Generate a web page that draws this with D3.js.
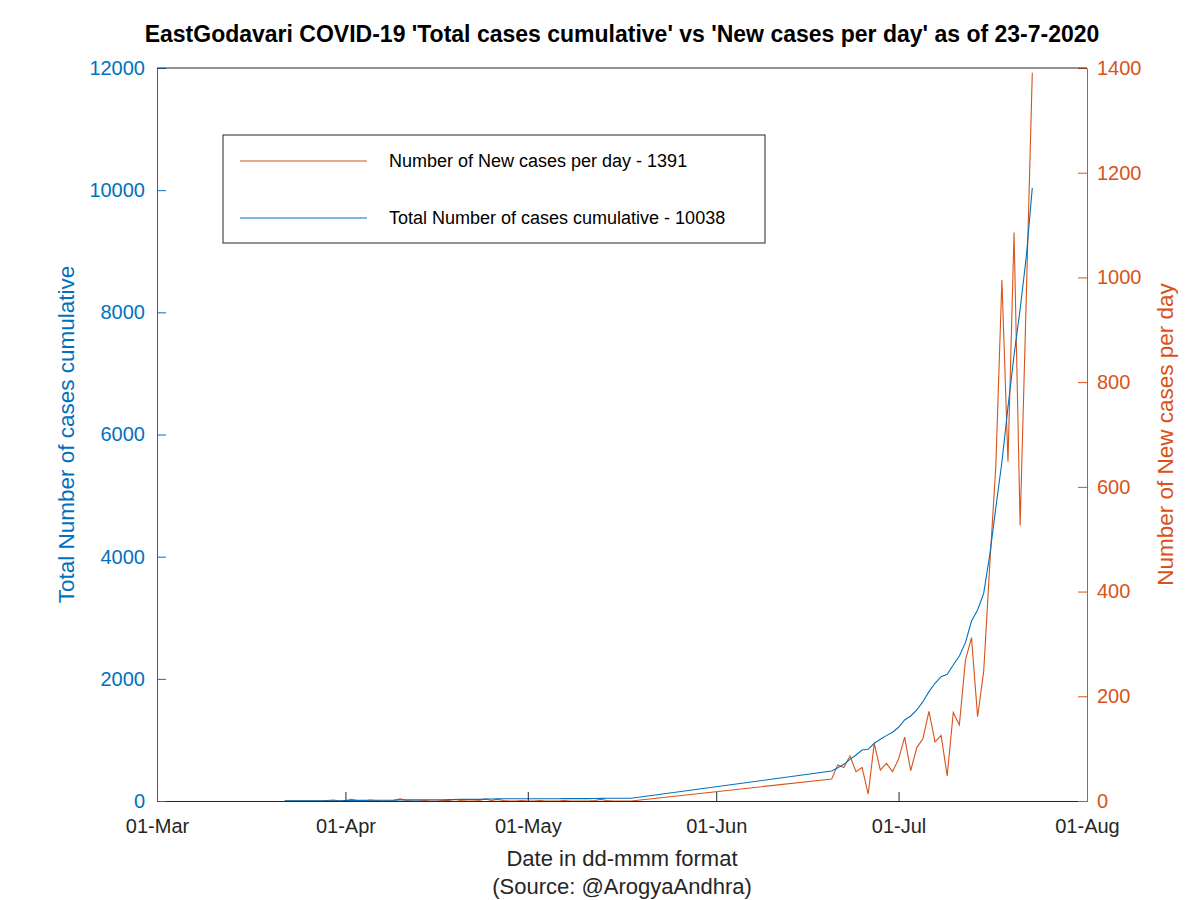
<!DOCTYPE html>
<html>
<head>
<meta charset="utf-8">
<script src="https://cdn.jsdelivr.net/npm/d3@7"></script>
<style>
  body { margin: 0; background: #fff; }
  svg { display: block; font-family: "Liberation Sans", Arial, sans-serif; }
</style>
</head>
<body>
<svg id="chart" width="1200" height="900"></svg>
<script>
// ---- Data ----
const dates = [
  "2020-03-22","2020-03-23","2020-03-24","2020-03-25","2020-03-26","2020-03-27","2020-03-28","2020-03-29","2020-03-30","2020-03-31",
  "2020-04-01","2020-04-02","2020-04-03","2020-04-04","2020-04-05","2020-04-06","2020-04-07","2020-04-08","2020-04-09","2020-04-10",
  "2020-04-11","2020-04-12","2020-04-13","2020-04-14","2020-04-15","2020-04-16","2020-04-17","2020-04-18","2020-04-19","2020-04-20",
  "2020-04-21","2020-04-22","2020-04-23","2020-04-24","2020-04-25","2020-04-26","2020-04-27","2020-04-28","2020-04-29","2020-04-30",
  "2020-05-01","2020-05-02","2020-05-03","2020-05-04","2020-05-05","2020-05-06","2020-05-07","2020-05-08","2020-05-09","2020-05-10",
  "2020-05-11","2020-05-12","2020-05-13","2020-05-14","2020-05-15","2020-05-16","2020-05-17","2020-05-18",
  "2020-06-20","2020-06-21","2020-06-22","2020-06-23","2020-06-24","2020-06-25","2020-06-26","2020-06-27","2020-06-28","2020-06-29","2020-06-30",
  "2020-07-01","2020-07-02","2020-07-03","2020-07-04","2020-07-05","2020-07-06","2020-07-07","2020-07-08","2020-07-09","2020-07-10",
  "2020-07-11","2020-07-12","2020-07-13","2020-07-14","2020-07-15","2020-07-16","2020-07-17","2020-07-18","2020-07-19","2020-07-20",
  "2020-07-21","2020-07-22","2020-07-23"
];
const newCases = [
  0,0,0,0,0,0,0,1,2,0,
  1,3,1,0,2,1,0,0,1,4,
  1,0,0,1,0,0,1,1,3,1,
  0,0,1,4,1,3,1,0,0,1,
  0,0,1,0,0,0,1,0,0,0,
  0,1,3,1,0,0,0,0,
  42,69,64,86,56,64,13,110,59,72,56,
  80,122,58,102,119,171,113,125,48,169,
  145,269,312,161,247,450,640,995,648,1086,
  526,958,1391
];
const cumulative = [
  2,2,2,2,2,2,2,3,5,5,
  6,9,10,10,12,13,13,13,14,18,
  19,19,19,20,20,20,21,22,25,26,
  26,26,27,31,32,35,36,36,36,37,
  37,37,38,38,38,38,39,39,39,39,
  39,40,43,44,44,44,44,44,
  491,545,600,682,753,835,846,945,1010,1070,1125,
  1207,1326,1392,1490,1626,1790,1927,2035,2074,2227,
  2374,2592,2947,3127,3400,4030,4800,5550,6450,7300,
  8050,8900,10038
];
const xTickDates = ["2020-03-01","2020-04-01","2020-05-01","2020-06-01","2020-07-01","2020-08-01"];
const xTickLabels = ["01-Mar","01-Apr","01-May","01-Jun","01-Jul","01-Aug"];
const leftTicks = [0,2000,4000,6000,8000,10000,12000];
const rightTicks = [0,200,400,600,800,1000,1200,1400];

const titleText = "EastGodavari COVID-19 'Total cases cumulative' vs 'New cases per day' as of 23-7-2020";
const legendNew = "Number of New cases per day - 1391";
const legendCum = "Total Number of cases cumulative - 10038";

// ---- Drawing ----
const BLUE = "#0072BD", ORANGE = "#D95319", DARK = "#262626";
const FONT = "Liberation Sans, Arial, sans-serif";
const svg = d3.select("#chart");
const parse = d3.utcParse("%Y-%m-%d");
const L = 157, R = 1087, T = 68, B = 801;

const x = d3.scaleUtc().domain([parse("2020-03-01"), parse("2020-08-01")]).range([L, R]);
const yL = d3.scaleLinear().domain([0, 12000]).range([B, T]);
const yR = d3.scaleLinear().domain([0, 1400]).range([B, T]);

const data = dates.map((d, i) => ({ date: parse(d), n: newCases[i], c: cumulative[i] }));

svg.append("rect").attr("x", 0).attr("y", 0).attr("width", 1200).attr("height", 900).attr("fill", "#fff");

// lines
svg.append("path").datum(data)
  .attr("fill", "none").attr("stroke", ORANGE).attr("stroke-width", 1.1)
  .attr("d", d3.line().x(d => x(d.date)).y(d => yR(d.n)));
svg.append("path").datum(data)
  .attr("fill", "none").attr("stroke", BLUE).attr("stroke-width", 1.1)
  .attr("d", d3.line().x(d => x(d.date)).y(d => yL(d.c)));

// axes
const xAxis = d3.axisBottom(x)
  .tickValues(xTickDates.map(parse))
  .tickFormat((d, i) => xTickLabels[i])
  .tickSizeInner(-9).tickSizeOuter(0).tickPadding(18);
const gx = svg.append("g").attr("transform", `translate(0,${B})`).call(xAxis);
gx.select(".domain").attr("stroke", DARK).attr("stroke-width", 1);
gx.selectAll(".tick line").attr("stroke", DARK);
gx.selectAll(".tick text").attr("fill", DARK).attr("font-size", 20).attr("font-family", FONT);

const gl = svg.append("g").attr("transform", `translate(${L},0)`)
  .call(d3.axisLeft(yL).tickValues(leftTicks).tickFormat(d3.format("d")).tickSizeInner(-9).tickSizeOuter(0).tickPadding(12));
gl.select(".domain").attr("stroke", BLUE);
gl.selectAll(".tick line").attr("stroke", BLUE);
gl.selectAll(".tick text").attr("fill", BLUE).attr("font-size", 20).attr("font-family", FONT);

const gr = svg.append("g").attr("transform", `translate(${R},0)`)
  .call(d3.axisRight(yR).tickValues(rightTicks).tickFormat(d3.format("d")).tickSizeInner(-9).tickSizeOuter(0).tickPadding(10));
gr.select(".domain").attr("stroke", ORANGE);
gr.selectAll(".tick line").attr("stroke", ORANGE);
gr.selectAll(".tick text").attr("fill", ORANGE).attr("font-size", 20).attr("font-family", FONT);

// top border
svg.append("line").attr("x1", L).attr("x2", R).attr("y1", T).attr("y2", T).attr("stroke", DARK);

// title
svg.append("text").attr("x", 622).attr("y", 42).attr("text-anchor", "middle")
  .attr("font-size", 23).attr("font-weight", "bold").attr("fill", "#000").text(titleText);

// axis labels
svg.append("text").attr("x", 622).attr("y", 866).attr("text-anchor", "middle")
  .attr("font-size", 22).attr("fill", DARK).text("Date in dd-mmm format");
svg.append("text").attr("x", 622).attr("y", 894).attr("text-anchor", "middle")
  .attr("font-size", 22).attr("fill", DARK).text("(Source: @ArogyaAndhra)");
svg.append("text").attr("transform", `translate(74,${(T + B) / 2}) rotate(-90)`).attr("text-anchor", "middle")
  .attr("font-size", 22.5).attr("fill", BLUE).text("Total Number of cases cumulative");
svg.append("text").attr("transform", `translate(1173,${(T + B) / 2}) rotate(-90)`).attr("text-anchor", "middle")
  .attr("font-size", 22.5).attr("fill", ORANGE).text("Number of New cases per day");

// legend
const lg = svg.append("g");
lg.append("rect").attr("x", 223).attr("y", 135).attr("width", 542).attr("height", 108)
  .attr("fill", "#fff").attr("stroke", DARK).attr("stroke-width", 1);
lg.append("line").attr("x1", 240).attr("x2", 367).attr("y1", 161).attr("y2", 161).attr("stroke", ORANGE).attr("stroke-width", 1.1);
lg.append("line").attr("x1", 240).attr("x2", 367).attr("y1", 218).attr("y2", 218).attr("stroke", BLUE).attr("stroke-width", 1.1);
lg.append("text").attr("x", 389).attr("y", 167).attr("font-size", 18).attr("fill", "#000").text(legendNew);
lg.append("text").attr("x", 389).attr("y", 224).attr("font-size", 18).attr("fill", "#000").text(legendCum);
</script>
</body>
</html>
